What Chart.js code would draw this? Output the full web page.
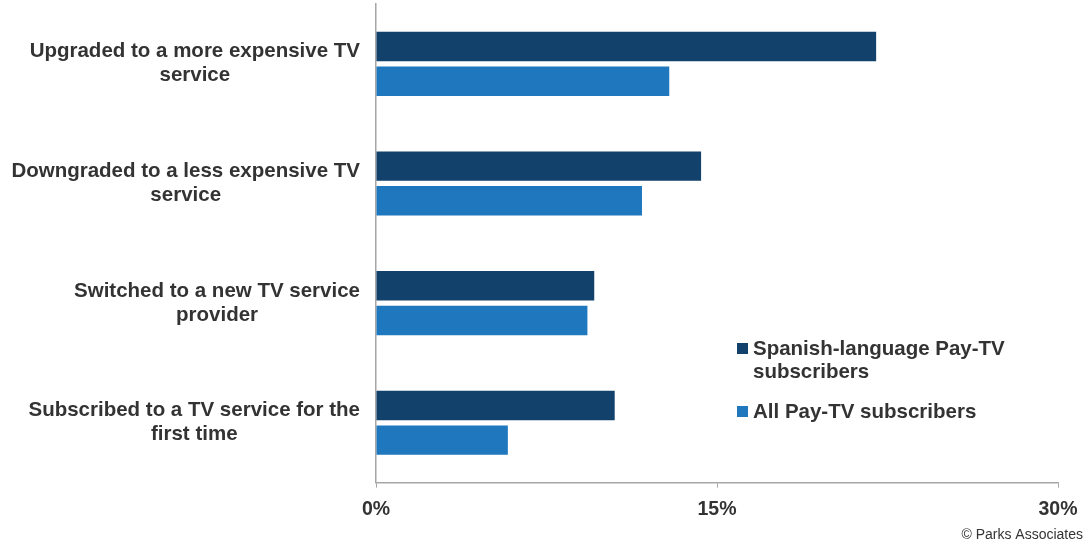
<!DOCTYPE html>
<html>
<head>
<meta charset="utf-8">
<script src="https://cdn.jsdelivr.net/npm/chart.js@4"></script>
<style>
  html, body { margin: 0; padding: 0; background: #fff; }
  #wrap { position: relative; width: 1086px; height: 546px; }
</style>
</head>
<body>
<div id="wrap"><canvas id="myChart" width="1086" height="546"></canvas></div>
<script>
// categories (multi-line labels as shown on the picture)
let categories = [
    ['Upgraded to a more expensive TV', 'service'],
    ['Downgraded to a less expensive TV', 'service'],
    ['Switched to a new TV service', 'provider'],
    ['Subscribed to a TV service for the', 'first time']
];
let spanishValues = [22.0, 14.3, 9.6, 10.5];
let allValues = [12.9, 11.7, 9.3, 5.8];
let seriesNames = [['Spanish-language Pay-TV', 'subscribers'], ['All Pay-TV subscribers']];
let xTicks = [0, 15, 30];

let darkBlue = '#12416c';
let lightBlue = '#1f77bd';
let textColor = '#333333';
let axisColor = '#a6a6a6';
let fontFamily = '"Liberation Sans", Arial, sans-serif';

// category labels: each block centred on itself, blocks right-aligned near the axis
let categoryLabels = {
    id: 'categoryLabels',
    afterDraw(chart) {
        let ctx = chart.ctx;
        let yScale = chart.scales.y;
        ctx.save();
        ctx.font = 'bold 20.5px ' + fontFamily;
        ctx.fillStyle = textColor;
        ctx.textAlign = 'center';
        ctx.textBaseline = 'middle';
        chart.data.labels.forEach((lines, i) => {
            let yc = yScale.getPixelForValue(i);
            let w = Math.max(...lines.map(l => ctx.measureText(l).width));
            let xc = yScale.right - 16 - w / 2;
            let lh = 24;
            let y0 = yc - (lines.length - 1) * lh / 2;
            lines.forEach((line, j) => ctx.fillText(line, xc, y0 + j * lh));
        });
        ctx.restore();
    }
};

// legend sits inside the plot, drawn by hand
let insideLegend = {
    id: 'insideLegend',
    afterDraw(chart) {
        let ctx = chart.ctx;
        ctx.save();
        ctx.font = 'bold 20.5px ' + fontFamily;
        ctx.textBaseline = 'middle';
        let y = 349;
        chart.data.datasets.forEach((ds, i) => {
            ctx.fillStyle = ds.backgroundColor;
            ctx.fillRect(737, y - 6, 11, 11);
            ctx.fillStyle = textColor;
            seriesNames[i].forEach((line, j) => {
                ctx.fillText(line, 753, y + j * 23);
            });
            y += seriesNames[i].length * 23 + 17;
        });
        // source note
        ctx.font = '14px ' + fontFamily;
        ctx.textAlign = 'right';
        ctx.fillText('\u00a9 Parks Associates', 1083, 535);
        ctx.restore();
    }
};

let ctx = document.querySelector('#myChart').getContext('2d');
let myChart = new Chart(ctx, {
    type: 'bar',
    data: {
        labels: categories,
        datasets: [
            {
                label: 'Spanish-language Pay-TV subscribers',
                data: spanishValues,
                backgroundColor: darkBlue,
                barPercentage: 0.85,
                categoryPercentage: 0.58
            },
            {
                label: 'All Pay-TV subscribers',
                data: allValues,
                backgroundColor: lightBlue,
                barPercentage: 0.85,
                categoryPercentage: 0.58
            }
        ]
    },
    options: {
        indexAxis: 'y',
        responsive: false,
        animation: false,
        layout: { padding: { top: 4, right: 28, bottom: 15, left: 0 } },
        plugins: {
            legend: { display: false },
            tooltip: { enabled: false }
        },
        scales: {
            x: {
                min: 0,
                max: 30,
                afterBuildTicks: function (scale) {
                    scale.ticks = xTicks.map(v => ({ value: v }));
                },
                afterFit: function (scale) {
                    scale.paddingRight = 0;
                    scale.paddingLeft = 0;
                },
                grid: {
                    drawOnChartArea: false,
                    drawTicks: true,
                    tickLength: 5,
                    color: axisColor
                },
                border: { display: true, color: axisColor, width: 1.5 },
                ticks: {
                    padding: 10,
                    color: textColor,
                    font: { family: fontFamily, size: 19.5, weight: 'bold' },
                    callback: function (value) {
                        return value + '%';
                    }
                }
            },
            y: {
                grid: { display: false },
                border: { display: true, color: axisColor, width: 1.5 },
                afterFit: function (scale) {
                    scale.width = 376;
                    scale.paddingTop = 0;
                    scale.paddingBottom = 0;
                },
                ticks: { display: false }
            }
        }
    },
    plugins: [categoryLabels, insideLegend]
});
</script>
</body>
</html>
